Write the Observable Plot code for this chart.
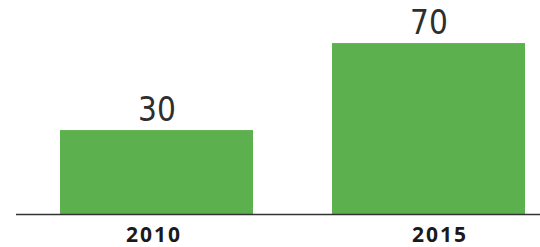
<!DOCTYPE html>
<html>
<head>
<meta charset="utf-8">
<script src="https://cdn.jsdelivr.net/npm/d3@7"></script>
<script src="https://cdn.jsdelivr.net/npm/@observablehq/plot@0.6"></script>
<style>
  html, body { margin: 0; padding: 0; background: #fff; }
  #chart svg { display: block; }
</style>
</head>
<body>
<div id="chart"></div>
<script>
const years = ["2010", "2015"];
const values = [30, 70];
const yFloor = -8.6;
const yTop = 89.8;

const data = years.map((year, i) => ({ year, value: values[i] }));

const tickStyle = {
  tickSize: 0, tickPadding: 13, fontSize: 21, fontWeight: "bold",
  fill: "#1a1a1a", label: null
};

const chart = Plot.plot({
  width: 540,
  height: 247,
  marginTop: 0,
  marginBottom: 33,
  marginLeft: 60,
  marginRight: 14,
  style: { fontFamily: "'Open Sans', sans-serif", background: "#fff" },
  x: { domain: years, paddingInner: 0.29, paddingOuter: 0 },
  y: { domain: [yFloor, yTop], axis: null },
  marks: [
    Plot.barY(data, { x: "year", y1: () => yFloor, y2: "value", fill: "#5db04e" }),
    Plot.ruleY([yFloor], { stroke: "#333", strokeWidth: 1.5, insetLeft: -44, insetRight: -14 }),
    Plot.text(data, {
      x: "year", y: "value", text: d => String(d.value),
      lineAnchor: "bottom", dy: -10, fontSize: 33, fill: "#2e2e2e",
      fontFamily: "'Liberation Sans Narrow', 'DejaVu Sans Condensed', sans-serif"
    }),
    Plot.axisX([years[0]], { ...tickStyle, dx: -3 }),
    Plot.axisX([years[1]], { ...tickStyle, dx: 11 })
  ]
});
chart.querySelectorAll("[aria-label='x-axis tick label'] text").forEach(t => t.style.letterSpacing = "2px");
document.getElementById("chart").appendChild(chart);
</script>
</body>
</html>
